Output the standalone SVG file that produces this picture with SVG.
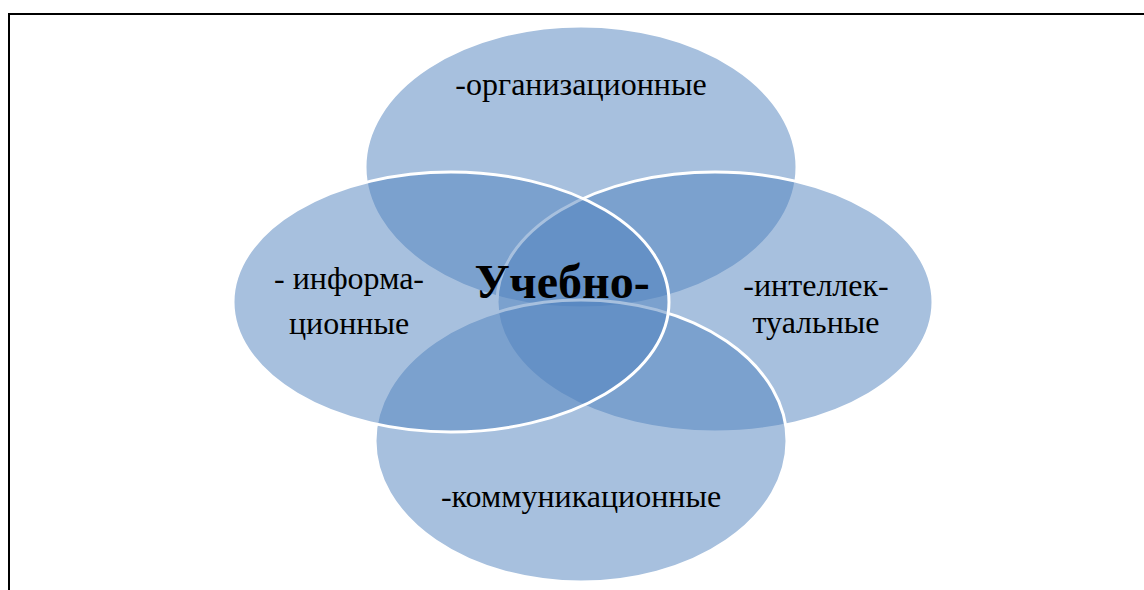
<svg xmlns="http://www.w3.org/2000/svg" width="1144" height="590" viewBox="0 0 1144 590">
<style>
.e{fill:#4F81BD;fill-opacity:0.5;stroke:#FFFFFF;stroke-width:3}
.t{font-family:"Liberation Serif","Times New Roman",serif;font-size:32px;fill:#000;text-anchor:middle}
.c{font-family:"Liberation Serif","Times New Roman",serif;font-size:48px;font-weight:bold;fill:#000;text-anchor:middle}
</style>
<rect width="1144" height="590" fill="#FFFFFF"/>
<path d="M9,591 V14 H1145" fill="none" stroke="#000" stroke-width="2"/>
<g id="node-top"><ellipse class="e" cx="581" cy="167" rx="216" ry="141"/></g>
<g id="node-right"><ellipse class="e" cx="715" cy="302" rx="218" ry="130"/></g>
<g id="node-bottom"><ellipse class="e" cx="581" cy="441" rx="206" ry="141"/></g>
<g id="node-left"><ellipse class="e" cx="451" cy="302" rx="218" ry="130"/></g>
<g id="labels">
<text class="t" x="581" y="95">-организационные</text>
<text class="t"><tspan x="349" y="289">- информа-</tspan><tspan x="349" y="334">ционные</tspan></text>
<text class="t"><tspan x="816" y="296">-интеллек-</tspan><tspan x="816" y="333">туальные</tspan></text>
<text class="t" x="581" y="507">-коммуникационные</text>
<text class="c" x="562" y="298">Учебно-</text>
</g>
<g id="connectors"></g>
</svg>
